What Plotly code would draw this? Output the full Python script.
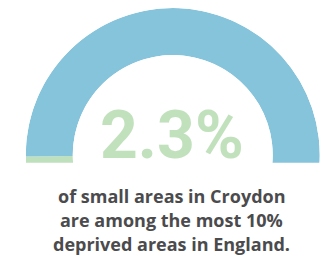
import plotly.graph_objects as go

# ---- data ----
labels = ["Most deprived 10%", "Other small areas"]
shares = [2.3, 97.7]
big_label = "2.3%"
caption = ["of small areas in Croydon",
           "are among the most 10%",
           "deprived areas in England."]
colors = ["#bfe0bd", "#86c4dc"]

gauge_start = 185
gauge_span = 190

widths = [s / 100 * gauge_span for s in shares]
thetas = []
pos = gauge_start
for w in widths:
    thetas.append(pos - w / 2)
    pos -= w

# page has an 8px body margin, so the figure is 8px smaller than the window
W, H = 321, 248
R_OUT = 147.0
CX, CY = 164.75, 147.0          # gauge centre in figure pixels
BBOX_H = R_OUT * 1.0872         # sector [-5, 185] bounding box height

fig = go.Figure(go.Barpolar(
    r=[1] * len(shares), theta=thetas, width=widths,
    marker=dict(color=colors, line=dict(width=0)),
    text=labels, hoverinfo="text", showlegend=False,
))

fig.update_layout(
    width=W, height=H,
    margin=dict(l=0, r=0, t=0, b=0),
    paper_bgcolor="white", plot_bgcolor="white",
    polar=dict(
        domain=dict(x=[(CX - R_OUT) / W, (CX + R_OUT) / W],
                    y=[1 - BBOX_H / H, 1]),
        sector=[gauge_start - gauge_span, gauge_start],
        hole=0.68,
        bgcolor="rgba(0,0,0,0)",
        radialaxis=dict(range=[0, 1], visible=False, showgrid=False),
        angularaxis=dict(visible=False, showgrid=False, showline=False,
                         direction="counterclockwise", rotation=0),
    ),
    shapes=[dict(type="rect", xref="paper", yref="paper",
                 x0=0, x1=1, y0=0, y1=1 - 154.7 / H,
                 fillcolor="white", line=dict(width=0), layer="above")],
)

fig.add_annotation(text=big_label, x=164 / W, y=1 - 127 / H,
                   xref="paper", yref="paper", showarrow=False,
                   xanchor="center", yanchor="middle",
                   font=dict(family="Roboto", size=66,
                             color="#c1e1bd", weight="bold"))

line_y = [187.5, 212, 236]
for txt, yy in zip(caption, line_y):
    fig.add_annotation(text=txt, x=164 / W, y=1 - yy / H,
                       xref="paper", yref="paper", showarrow=False,
                       xanchor="center", yanchor="middle", borderpad=0,
                       font=dict(family="Open Sans", size=18, color="#4b4b4d",
                                 weight="bold"))

fig.write_html("out.html")
